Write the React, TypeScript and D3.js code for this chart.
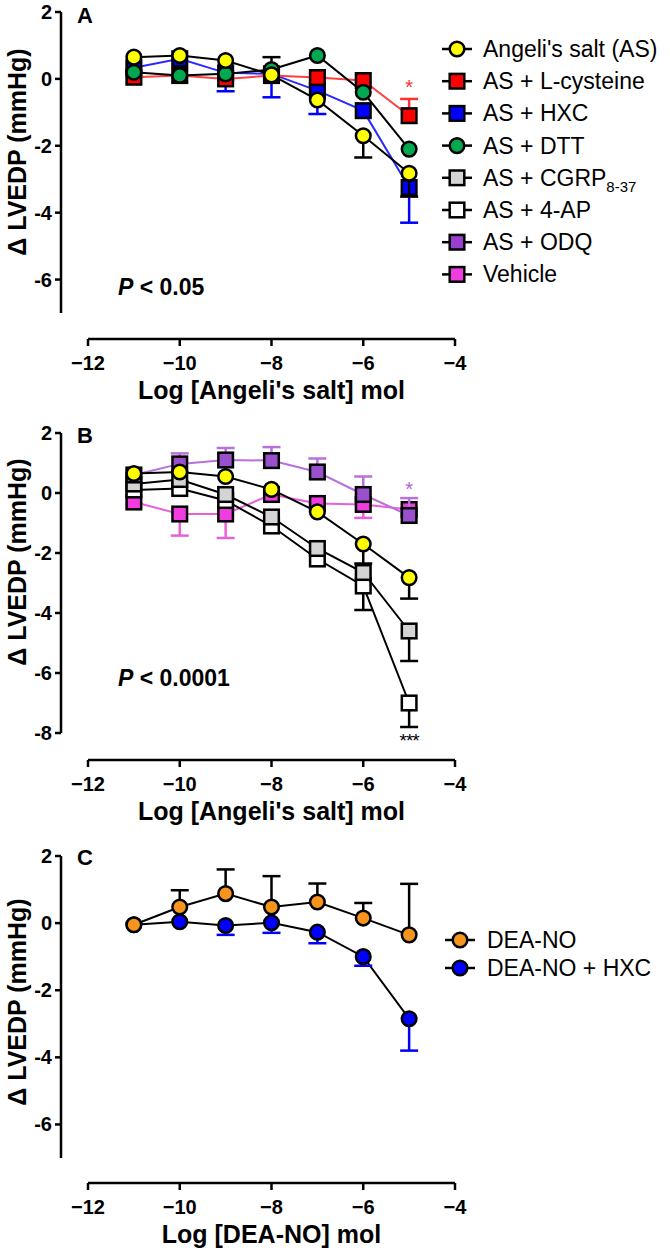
import React from "react";
import * as d3 from "d3";

// ---------- data ----------
const doses = [-11, -10, -9, -8, -7, -6, -5];
const xTicks = [-12, -10, -8, -6, -4];
const yTicksA = [2, 0, -2, -4, -6];
const yTicksB = [2, 0, -2, -4, -6, -8];
const yTicksC = [2, 0, -2, -4, -6];

// Angeli's salt (AS) – shared by A and B
const asMean = [0.65, 0.7, 0.55, 0.12, -0.63, -1.7, -2.82];
const asErr = [0, 0, 0, 0, 0, -0.65, -0.7];
// Panel A
const lcysMean = [0.05, 0.1, 0.0, 0.1, 0.04, -0.05, -1.1];
const lcysErr = [0, 0, 0, 0, 0, 0, 0.5];
const hxcMean = [0.33, 0.6, 0.18, 0.15, -0.35, -0.95, -3.25];
const hxcErr = [0, 0, -0.55, -0.7, -0.7, 0, -1.05];
const dttMean = [0.2, 0.1, 0.15, 0.28, 0.7, -0.4, -2.1];
const dttErr = [0, 0, 0, 0.37, 0, 0, 0];
// Panel B
const cgrpMean = [0.3, 0.45, -0.05, -0.8, -1.85, -2.65, -4.6];
const cgrpErr = [0, 0, 0, 0, 0, 0, -1.0];
const apMean = [0.1, 0.15, -0.25, -1.1, -2.2, -3.1, -7.0];
const apErr = [0, 0, 0, 0, 0, -0.8, -0.8];
const odqMean = [0.6, 0.97, 1.1, 1.08, 0.7, -0.05, -0.75];
const odqErr = [0, 0.35, 0.4, 0.45, 0.45, 0.6, 0.58];
const vehMean = [-0.3, -0.7, -0.7, -0.05, -0.35, -0.38, -0.55];
const vehErr = [0, -0.72, -0.8, 0, 0, -0.45, 0];
// Panel C
const deaMean = [-0.05, 0.48, 0.88, 0.48, 0.63, 0.15, -0.35];
const deaErr = [0, 0.5, 0.72, 0.92, 0.55, 0.45, 1.52];
const deaHxcMean = [-0.05, 0.04, -0.07, 0.01, -0.27, -1.0, -2.85];
const deaHxcErr = [0, 0, -0.28, -0.3, -0.33, -0.27, -0.95];

const legendA = [
  { name: "Angeli's salt (AS)", shape: "circle", fill: "#ffff00" },
  { name: "AS + L-cysteine", shape: "square", fill: "#ff0000" },
  { name: "AS + HXC", shape: "square", fill: "#0000ff" },
  { name: "AS + DTT", shape: "circle", fill: "#00a84f" },
  { name: "AS + CGRP", sub: "8-37", shape: "square", fill: "#d4d4d4" },
  { name: "AS + 4-AP", shape: "square", fill: "#ffffff" },
  { name: "AS + ODQ", shape: "square", fill: "#9a3fd0" },
  { name: "Vehicle", shape: "square", fill: "#f03ce0" },
];
const legendC = [
  { name: "DEA-NO", shape: "circle", fill: "#f7941d" },
  { name: "DEA-NO + HXC", shape: "circle", fill: "#0000ff" },
];

// ---------- layout ----------
const W = 670;
const H = 1254;
const FONT = "'Liberation Sans', Arial, sans-serif";
const x = d3.scaleLinear().domain([-12, -4]).range([88, 455]);

type Series = {
  mean: number[];
  err: number[];
  shape: string;
  fill: string;
  line: string;
  errColor: string;
};

function Marker({ cx, cy, shape, fill }: any) {
  if (shape === "circle")
    return <circle cx={cx} cy={cy} r={7.3} fill={fill} stroke="#000" strokeWidth={2.5} />;
  return <rect x={cx - 7.3} y={cy - 7.3} width={14.6} height={14.6} fill={fill} stroke="#000" strokeWidth={2.5} />;
}

function SeriesG({ s, y }: { s: Series; y: any }) {
  const line = d3
    .line<number>()
    .x((_, i) => x(doses[i]))
    .y((d) => y(d));
  return (
    <g>
      <path d={line(s.mean) || ""} fill="none" stroke={s.line} strokeWidth={2} />
      {s.mean.map((m, i) =>
        s.err[i] !== 0 ? (
          <g key={"e" + i} stroke={s.errColor} strokeWidth={2.5}>
            <line x1={x(doses[i])} x2={x(doses[i])} y1={y(m)} y2={y(m + s.err[i])} />
            <line x1={x(doses[i]) - 9} x2={x(doses[i]) + 9} y1={y(m + s.err[i])} y2={y(m + s.err[i])} />
          </g>
        ) : null
      )}
      {s.mean.map((m, i) => (
        <Marker key={"m" + i} cx={x(doses[i])} cy={y(m)} shape={s.shape} fill={s.fill} />
      ))}
    </g>
  );
}

function Axes({ y, ticks, axisY, letter, letterY, xTitle, yLabelCy, pText, pY }: any) {
  const [d0, d1] = y.domain();
  return (
    <g fontFamily={FONT} fontWeight="bold" fill="#000">
      <line x1={61} x2={61} y1={y(d0)} y2={y(d1)} stroke="#000" strokeWidth={2.5} />
      {ticks.map((t: number) => (
        <g key={t}>
          <line x1={55} x2={61} y1={y(t)} y2={y(t)} stroke="#000" strokeWidth={2.5} />
          <text x={52} y={y(t) + 7} textAnchor="end" fontSize={20}>
            {t < 0 ? "-" + Math.abs(t) : String(t)}
          </text>
        </g>
      ))}
      <text
        transform={`translate(26,${yLabelCy}) rotate(-90)`}
        textAnchor="middle"
        fontSize={25}
      >
        Δ LVEDP (mmHg)
      </text>
      <text x={77} y={letterY} fontSize={22}>{letter}</text>
      <line x1={x(-12)} x2={x(-4)} y1={axisY} y2={axisY} stroke="#000" strokeWidth={2.5} />
      {xTicks.map((t) => (
        <g key={t}>
          <line x1={x(t)} x2={x(t)} y1={axisY} y2={axisY + 7} stroke="#000" strokeWidth={2.5} />
          <text x={x(t)} y={axisY + 31} textAnchor="middle" fontSize={20}>
            {"\u2212" + Math.abs(t)}
          </text>
        </g>
      ))}
      <text x={(x(-12) + x(-4)) / 2} y={axisY + 60} textAnchor="middle" fontSize={25}>
        {xTitle}
      </text>
      {pText ? (
        <text x={118} y={pY} fontSize={23}>
          <tspan fontStyle="italic">P</tspan>
          {" < " + pText}
        </text>
      ) : null}
    </g>
  );
}

function LegendItem({ item, cx, cy, tx, fs }: any) {
  return (
    <g>
      <line x1={cx - 15} x2={cx + 15} y1={cy} y2={cy} stroke="#000" strokeWidth={2.5} />
      <Marker cx={cx} cy={cy} shape={item.shape} fill={item.fill} />
      <text x={tx} y={cy + 8} fontSize={fs} fontFamily={FONT} fill="#000">
        {item.name}
        {item.sub ? (
          <tspan fontSize={15} dy={6}>{item.sub}</tspan>
        ) : null}
      </text>
    </g>
  );
}

export default function App() {
  const yA = d3.scaleLinear().domain([-7, 2]).range([313, 12]);
  const yB = d3.scaleLinear().domain([-8, 2]).range([733, 433]);
  const yC = d3.scaleLinear().domain([-7, 2]).range([1158, 856]);

  const sAS = { mean: asMean, err: asErr, shape: "circle", fill: "#ffff00", line: "#000", errColor: "#000" };
  const seriesA: Series[] = [
    { mean: hxcMean, err: hxcErr, shape: "square", fill: "#0000ff", line: "#2a2aff", errColor: "#0000ff" },
    { mean: lcysMean, err: lcysErr, shape: "square", fill: "#ff0000", line: "#ff4040", errColor: "#ff3030" },
    { mean: dttMean, err: dttErr, shape: "circle", fill: "#00a84f", line: "#000", errColor: "#000" },
    sAS,
  ];
  const seriesB: Series[] = [
    { mean: vehMean, err: vehErr, shape: "square", fill: "#f03ce0", line: "#e860dc", errColor: "#e860dc" },
    { mean: apMean, err: apErr, shape: "square", fill: "#ffffff", line: "#000", errColor: "#000" },
    { mean: cgrpMean, err: cgrpErr, shape: "square", fill: "#d4d4d4", line: "#000", errColor: "#000" },
    { mean: odqMean, err: odqErr, shape: "square", fill: "#9a4fcc", line: "#b870dc", errColor: "#b870dc" },
    sAS,
  ];
  const seriesC: Series[] = [
    { mean: deaHxcMean, err: deaHxcErr, shape: "circle", fill: "#0000ff", line: "#000", errColor: "#0000ff" },
    { mean: deaMean, err: deaErr, shape: "circle", fill: "#f7941d", line: "#000", errColor: "#000" },
  ];

  return (
    <svg
      width={W}
      height={H}
      style={{ position: "absolute", left: 0, top: 0, background: "#fff" }}
    >
      <rect width={W} height={H} fill="#fff" />
      {/* Panel A */}
      <Axes y={yA} ticks={yTicksA} axisY={339} letter="A" letterY={23} xTitle="Log [Angeli's salt] mol" yLabelCy={152} pText="0.05" pY={295} />
      {seriesA.map((s, i) => <SeriesG key={i} s={s} y={yA} />)}
      <text x={x(-5)} y={yA(-0.45)} textAnchor="middle" fontSize={20} fill="#ff3030" fontFamily={FONT}>*</text>
      {legendA.map((it, i) => (
        <LegendItem key={i} item={it} cx={457} cy={49 + i * 32.2} tx={483} fs={23} />
      ))}

      {/* Panel B */}
      <Axes y={yB} ticks={yTicksB} axisY={760} letter="B" letterY={443} xTitle="Log [Angeli's salt] mol" yLabelCy={562} pText="0.0001" pY={686} />
      {seriesB.map((s, i) => <SeriesG key={i} s={s} y={yB} />)}
      <text x={x(-5)} y={yB(-0.1)} textAnchor="middle" fontSize={20} fill="#b060d8" fontFamily={FONT}>*</text>
      <text x={x(-5)} y={yB(-8.45)} textAnchor="middle" fontSize={19} fill="#000" fontFamily={FONT} letterSpacing={-1}>***</text>

      {/* Panel C */}
      <Axes y={yC} ticks={yTicksC} axisY={1183} letter="C" letterY={865} xTitle="Log [DEA-NO] mol" yLabelCy={1002} pText="" pY={0} />
      {seriesC.map((s, i) => <SeriesG key={i} s={s} y={yC} />)}
      {legendC.map((it, i) => (
        <LegendItem key={i} item={it} cx={460} cy={940 + i * 28} tx={487} fs={23} />
      ))}
    </svg>
  );
}
